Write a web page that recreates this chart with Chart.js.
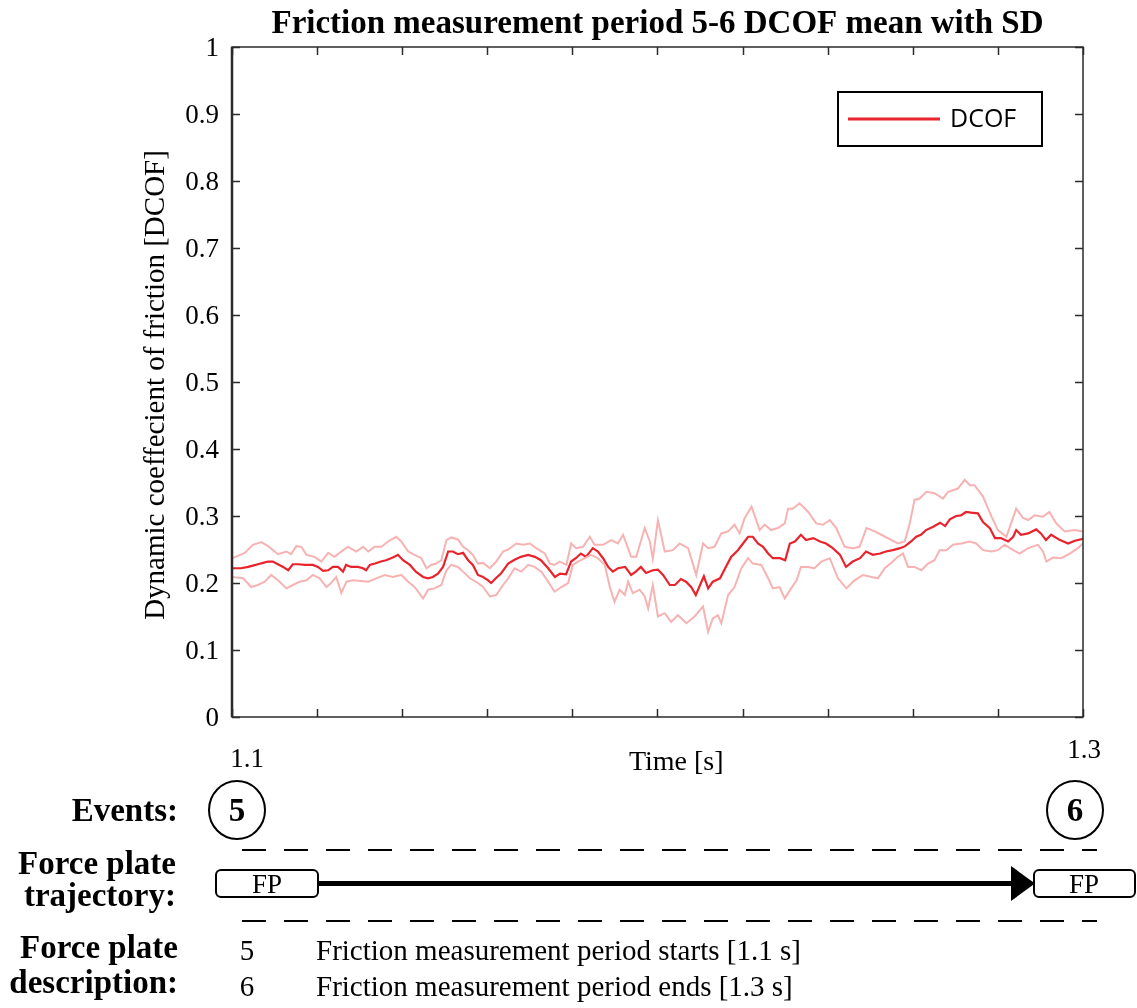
<!DOCTYPE html>
<html>
<head>
<meta charset="utf-8">
<title>Friction measurement period 5-6 DCOF mean with SD</title>
<script src="https://cdn.jsdelivr.net/npm/chart.js@4.4.1/dist/chart.umd.min.js"></script>
<style>
  html, body { margin: 0; padding: 0; background: #fff; }
  #wrap { position: relative; width: 1137px; height: 1008px; overflow: hidden; }
  #chart { position: absolute; left: 0; top: 0; }
  #events { position: absolute; left: 0; top: 0; }
  .serif { font-family: "Liberation Serif", "Times New Roman", serif; }
  .head { font-weight: bold; font-size: 33px; }
  .note { font-size: 27px; }
  .desc { font-size: 29px; }
</style>
</head>
<body>
<div id="wrap">
  <canvas id="chart" width="1137" height="1008"></canvas>
  <svg id="events" width="1137" height="1008" xmlns="http://www.w3.org/2000/svg">
    <!-- event markers -->
    <ellipse cx="237" cy="810" rx="28" ry="29" fill="none" stroke="#000" stroke-width="2"/>
    <ellipse cx="1075" cy="810" rx="28" ry="29" fill="none" stroke="#000" stroke-width="2"/>
    <text class="serif head" x="178" y="821" text-anchor="end">Events:</text>
    <text class="serif head" x="237" y="821" text-anchor="middle">5</text>
    <text class="serif head" x="1075" y="821" text-anchor="middle">6</text>

    <!-- force plate trajectory -->
    <line x1="242" y1="850" x2="1097" y2="850" stroke="#000" stroke-width="2" stroke-dasharray="24 18"/>
    <line x1="242" y1="921" x2="1097" y2="921" stroke="#000" stroke-width="2" stroke-dasharray="24 18"/>
    <text class="serif head" x="176" y="874" text-anchor="end">Force plate</text>
    <text class="serif head" x="176" y="906" text-anchor="end">trajectory:</text>
    <line x1="318" y1="883.5" x2="1014" y2="883.5" stroke="#000" stroke-width="5"/>
    <polygon points="1011,866 1011,901 1035,883.5" fill="#000"/>
    <rect x="216" y="870" width="102" height="27" rx="5" ry="5" fill="#fff" stroke="#000" stroke-width="2"/>
    <rect x="1034" y="870" width="101" height="27" rx="5" ry="5" fill="#fff" stroke="#000" stroke-width="2"/>
    <text class="serif note" x="267" y="893" text-anchor="middle">FP</text>
    <text class="serif note" x="1084" y="893" text-anchor="middle">FP</text>

    <!-- description -->
    <text class="serif head" x="178" y="958" text-anchor="end">Force plate</text>
    <text class="serif head" x="178" y="993" text-anchor="end">description:</text>
    <text class="serif desc" x="247" y="960" text-anchor="middle">5</text>
    <text class="serif desc" x="247" y="996" text-anchor="middle">6</text>
    <text class="serif desc" x="316" y="960">Friction measurement period starts [1.1 s]</text>
    <text class="serif desc" x="316" y="996">Friction measurement period ends [1.3 s]</text>
  </svg>
</div>
<script>
// Mean dynamic coefficient of friction over the measurement period (time in s)
const meanTime = [1.1000,1.1021,1.1038,1.1049,1.1061,1.1073,1.1085,1.1096,1.1108,1.1120,
  1.1132,1.1143,1.1155,1.1172,1.1190,1.1202,1.1214,1.1226,1.1237,1.1249,
  1.1261,1.1268,1.1280,1.1296,1.1308,1.1315,1.1324,1.1336,1.1350,1.1362,
  1.1378,1.1390,1.1402,1.1418,1.1432,1.1449,1.1461,1.1472,1.1484,1.1496,
  1.1508,1.1519,1.1531,1.1543,1.1555,1.1566,1.1578,1.1590,1.1602,1.1609,
  1.1620,1.1632,1.1649,1.1665,1.1679,1.1696,1.1712,1.1726,1.1743,1.1759,
  1.1771,1.1785,1.1797,1.1808,1.1820,1.1832,1.1848,1.1860,1.1872,1.1884,
  1.1895,1.1907,1.1924,1.1938,1.1949,1.1961,1.1973,1.1989,1.2001,1.2013,
  1.2029,1.2041,1.2055,1.2067,1.2079,1.2090,1.2102,1.2109,1.2119,1.2130,
  1.2147,1.2159,1.2173,1.2189,1.2201,1.2213,1.2224,1.2236,1.2248,1.2260,
  1.2271,1.2288,1.2300,1.2311,1.2323,1.2337,1.2349,1.2366,1.2382,1.2396,
  1.2412,1.2429,1.2443,1.2459,1.2476,1.2490,1.2506,1.2523,1.2537,1.2553,
  1.2570,1.2582,1.2596,1.2608,1.2619,1.2631,1.2648,1.2664,1.2676,1.2687,
  1.2702,1.2713,1.2725,1.2737,1.2753,1.2765,1.2781,1.2793,1.2807,1.2824,
  1.2836,1.2843,1.2854,1.2871,1.2890,1.2901,1.2913,1.2925,1.2946,1.2965,
  1.2981,1.3000];
const meanValue = [0.222,0.222,0.224,0.226,0.228,0.230,0.232,0.232,0.228,0.224,
  0.219,0.228,0.228,0.227,0.227,0.224,0.218,0.219,0.224,0.224,
  0.217,0.227,0.224,0.224,0.222,0.219,0.227,0.229,0.232,0.234,
  0.238,0.242,0.234,0.227,0.217,0.209,0.207,0.209,0.214,0.224,
  0.247,0.247,0.243,0.245,0.234,0.227,0.212,0.209,0.204,0.200,
  0.207,0.214,0.229,0.235,0.239,0.242,0.239,0.234,0.222,0.209,
  0.214,0.213,0.232,0.237,0.244,0.239,0.252,0.247,0.237,0.224,
  0.217,0.222,0.224,0.212,0.217,0.224,0.215,0.219,0.220,0.212,
  0.197,0.197,0.206,0.202,0.194,0.182,0.200,0.210,0.192,0.202,
  0.207,0.222,0.239,0.249,0.259,0.269,0.269,0.259,0.254,0.244,
  0.237,0.237,0.234,0.259,0.262,0.272,0.264,0.267,0.262,0.259,
  0.252,0.242,0.224,0.232,0.237,0.247,0.242,0.244,0.247,0.249,
  0.252,0.255,0.262,0.269,0.272,0.279,0.284,0.290,0.285,0.295,
  0.300,0.301,0.306,0.305,0.304,0.291,0.282,0.267,0.267,0.262,
  0.269,0.279,0.272,0.274,0.280,0.274,0.264,0.272,0.264,0.259,
  0.263,0.266];

// Mean + SD
const upperTime = [1.1000,1.1030,1.1049,1.1069,1.1085,1.1108,1.1128,1.1139,1.1151,1.1163,
  1.1175,1.1194,1.1210,1.1226,1.1241,1.1261,1.1273,1.1292,1.1308,1.1320,
  1.1335,1.1351,1.1367,1.1386,1.1398,1.1414,1.1429,1.1445,1.1457,1.1468,
  1.1480,1.1492,1.1504,1.1515,1.1531,1.1543,1.1555,1.1566,1.1578,1.1590,
  1.1606,1.1621,1.1637,1.1649,1.1668,1.1684,1.1700,1.1715,1.1735,1.1747,
  1.1758,1.1770,1.1786,1.1797,1.1809,1.1825,1.1841,1.1852,1.1872,1.1891,
  1.1907,1.1919,1.1938,1.1950,1.1970,1.1982,1.1989,1.2001,1.2017,1.2036,
  1.2052,1.2072,1.2091,1.2107,1.2119,1.2134,1.2150,1.2166,1.2181,1.2193,
  1.2205,1.2221,1.2240,1.2252,1.2267,1.2283,1.2299,1.2307,1.2318,1.2334,
  1.2354,1.2373,1.2389,1.2405,1.2420,1.2440,1.2459,1.2475,1.2491,1.2511,
  1.2526,1.2550,1.2565,1.2581,1.2593,1.2604,1.2616,1.2632,1.2651,1.2671,
  1.2683,1.2706,1.2722,1.2734,1.2745,1.2765,1.2785,1.2800,1.2820,1.2831,
  1.2843,1.2859,1.2871,1.2886,1.2906,1.2921,1.2937,1.2957,1.2980,1.3000];
const upperValue = [0.237,0.245,0.257,0.261,0.255,0.243,0.247,0.243,0.255,0.254,
  0.242,0.239,0.232,0.245,0.239,0.249,0.254,0.247,0.254,0.247,
  0.254,0.254,0.262,0.269,0.262,0.247,0.242,0.237,0.222,0.227,
  0.229,0.234,0.264,0.268,0.265,0.254,0.249,0.242,0.229,0.230,
  0.222,0.232,0.247,0.250,0.259,0.257,0.259,0.252,0.244,0.229,
  0.227,0.232,0.227,0.259,0.252,0.254,0.269,0.257,0.257,0.264,
  0.259,0.272,0.239,0.239,0.282,0.262,0.236,0.294,0.247,0.249,
  0.259,0.252,0.212,0.259,0.252,0.254,0.274,0.277,0.287,0.274,
  0.297,0.314,0.279,0.287,0.279,0.282,0.289,0.311,0.311,0.319,
  0.306,0.289,0.287,0.294,0.282,0.254,0.252,0.254,0.282,0.277,
  0.272,0.264,0.259,0.262,0.289,0.324,0.326,0.336,0.334,0.326,
  0.336,0.341,0.354,0.346,0.346,0.329,0.299,0.279,0.269,0.289,
  0.311,0.297,0.294,0.301,0.299,0.306,0.289,0.277,0.279,0.277];

// Mean - SD
const lowerTime = [1.1000,1.1026,1.1045,1.1061,1.1077,1.1092,1.1108,1.1128,1.1143,1.1159,
  1.1175,1.1190,1.1206,1.1222,1.1233,1.1245,1.1257,1.1269,1.1284,1.1304,
  1.1320,1.1339,1.1359,1.1378,1.1398,1.1414,1.1429,1.1449,1.1461,1.1476,
  1.1492,1.1504,1.1515,1.1531,1.1543,1.1559,1.1578,1.1590,1.1606,1.1621,
  1.1637,1.1649,1.1664,1.1680,1.1696,1.1711,1.1727,1.1743,1.1758,1.1774,
  1.1790,1.1801,1.1813,1.1829,1.1844,1.1860,1.1876,1.1888,1.1899,1.1911,
  1.1923,1.1931,1.1942,1.1958,1.1970,1.1978,1.1989,1.2001,1.2017,1.2032,
  1.2048,1.2068,1.2087,1.2107,1.2119,1.2130,1.2142,1.2150,1.2166,1.2181,
  1.2197,1.2213,1.2224,1.2244,1.2260,1.2271,1.2287,1.2299,1.2314,1.2327,
  1.2337,1.2353,1.2369,1.2385,1.2405,1.2424,1.2444,1.2463,1.2483,1.2503,
  1.2518,1.2534,1.2553,1.2565,1.2577,1.2589,1.2604,1.2620,1.2636,1.2651,
  1.2663,1.2679,1.2694,1.2714,1.2734,1.2749,1.2765,1.2785,1.2800,1.2816,
  1.2836,1.2851,1.2871,1.2894,1.2906,1.2914,1.2929,1.2949,1.2969,1.2988,
  1.3000];
const lowerValue = [0.209,0.207,0.194,0.197,0.202,0.212,0.204,0.192,0.197,0.202,
  0.204,0.212,0.207,0.194,0.200,0.209,0.185,0.202,0.204,0.203,
  0.202,0.207,0.212,0.209,0.212,0.202,0.194,0.177,0.190,0.192,
  0.197,0.219,0.227,0.224,0.217,0.207,0.200,0.194,0.180,0.182,
  0.197,0.207,0.222,0.217,0.227,0.224,0.217,0.202,0.187,0.194,
  0.200,0.227,0.232,0.237,0.242,0.237,0.227,0.194,0.172,0.190,
  0.182,0.202,0.185,0.190,0.180,0.162,0.197,0.150,0.155,0.142,
  0.152,0.140,0.150,0.165,0.127,0.147,0.152,0.140,0.182,0.194,
  0.222,0.237,0.229,0.227,0.207,0.192,0.194,0.177,0.192,0.204,
  0.224,0.224,0.222,0.232,0.237,0.207,0.192,0.204,0.212,0.209,
  0.207,0.222,0.232,0.239,0.244,0.224,0.224,0.219,0.229,0.234,
  0.249,0.249,0.257,0.259,0.262,0.259,0.249,0.247,0.249,0.257,
  0.249,0.244,0.252,0.257,0.247,0.232,0.238,0.237,0.244,0.252,
  0.259];

// Axis ticks and labels
const xTickMarks = [1.10,1.12,1.14,1.16,1.18,1.20,1.22,1.24,1.26,1.28,1.30];
const xTickLabels = ['1.1', '1.3'];
const xLabelValues = [1.1, 1.3];
const yTickValues = [0,0.1,0.2,0.3,0.4,0.5,0.6,0.7,0.8,0.9,1];
const yTickLabels = ['0','0.1','0.2','0.3','0.4','0.5','0.6','0.7','0.8','0.9','1'];

const titleText = 'Friction measurement period 5-6 DCOF mean with SD';
const xAxisTitle = 'Time [s]';
const yAxisTitle = 'Dynamic coeffecient of friction [DCOF]';

const toPoints = (t, v) => t.map((x, i) => ({ x, y: v[i] }));

const SERIF = '"Liberation Serif", "Times New Roman", serif';

// Box frame, inward ticks, tick labels, titles and in-plot legend
const framePlugin = {
  id: 'frame',
  afterDatasetsDraw(chart) {
    const { ctx, chartArea: a, scales: { x, y } } = chart;
    ctx.save();
    ctx.strokeStyle = '#2b2b2b';
    ctx.lineWidth = 1.5;
    ctx.strokeRect(a.left, a.top, a.right - a.left, a.bottom - a.top);
    ctx.lineWidth = 2.5;
    ctx.beginPath();
    ctx.moveTo(a.left, a.top); ctx.lineTo(a.left, a.bottom);
    ctx.stroke();

    ctx.lineWidth = 1.5;
    const tl = 8;
    ctx.beginPath();
    xTickMarks.forEach(v => {
      const px = Math.round(x.getPixelForValue(v)) + 0.5;
      ctx.moveTo(px, a.bottom); ctx.lineTo(px, a.bottom - tl);
      ctx.moveTo(px, a.top); ctx.lineTo(px, a.top + tl);
    });
    yTickValues.forEach(v => {
      const py = Math.round(y.getPixelForValue(v)) + 0.5;
      ctx.moveTo(a.left, py); ctx.lineTo(a.left + tl, py);
      ctx.moveTo(a.right, py); ctx.lineTo(a.right - tl, py);
    });
    ctx.stroke();

    ctx.fillStyle = '#000';
    ctx.font = '27px ' + SERIF;
    ctx.textAlign = 'right';
    ctx.textBaseline = 'middle';
    yTickValues.forEach((v, i) => {
      ctx.fillText(yTickLabels[i], a.left - 13, y.getPixelForValue(v) + 2);
    });

    ctx.textAlign = 'center';
    ctx.textBaseline = 'alphabetic';
    ctx.fillText(xTickLabels[0], x.getPixelForValue(xLabelValues[0]) + 15, a.bottom + 50);
    ctx.fillText(xTickLabels[1], x.getPixelForValue(xLabelValues[1]) + 1, a.bottom + 41);

    ctx.font = '28px ' + SERIF;
    ctx.fillText(xAxisTitle, a.left + (a.right - a.left) * 0.522, a.bottom + 53);

    ctx.save();
    ctx.font = '29px ' + SERIF;
    ctx.translate(164, 385);
    ctx.rotate(-Math.PI / 2);
    ctx.textAlign = 'center';
    ctx.textBaseline = 'alphabetic';
    ctx.fillText(yAxisTitle, 0, 0);
    ctx.restore();

    ctx.font = 'bold 33px ' + SERIF;
    ctx.fillText(titleText, (a.left + a.right) / 2, 33);

    // legend
    const ds = chart.data.datasets[2];
    ctx.fillStyle = '#fff';
    ctx.fillRect(838, 92, 204, 54);
    ctx.strokeStyle = '#000';
    ctx.lineWidth = 2;
    ctx.strokeRect(838, 92, 204, 54);
    ctx.strokeStyle = ds.borderColor;
    ctx.lineWidth = 3;
    ctx.beginPath();
    ctx.moveTo(848, 119); ctx.lineTo(940, 119);
    ctx.stroke();
    ctx.fillStyle = '#000';
    ctx.font = '25px "Open Sans", "Noto Sans", sans-serif';
    ctx.textAlign = 'left';
    ctx.textBaseline = 'middle';
    ctx.fillText(ds.label, 950, 120);
    ctx.restore();
  }
};

new Chart(document.getElementById('chart'), {
  type: 'line',
  data: {
    datasets: [
      { label: 'DCOF + SD', data: toPoints(upperTime, upperValue),
        borderColor: '#f7b2b2', borderWidth: 2 },
      { label: 'DCOF - SD', data: toPoints(lowerTime, lowerValue),
        borderColor: '#f7b2b2', borderWidth: 2 },
      { label: 'DCOF', data: toPoints(meanTime, meanValue),
        borderColor: '#e8232c', borderWidth: 2.2 }
    ]
  },
  options: {
    responsive: false,
    animation: false,
    devicePixelRatio: 1,
    layout: { padding: { left: 232, right: 54, top: 47, bottom: 291 } },
    elements: { point: { radius: 0 }, line: { tension: 0 } },
    plugins: { legend: { display: false }, tooltip: { enabled: false }, title: { display: false } },
    scales: {
      x: { type: 'linear', min: 1.1, max: 1.3, display: false },
      y: { type: 'linear', min: 0, max: 1, display: false }
    }
  },
  plugins: [framePlugin]
});
</script>
</body>
</html>
